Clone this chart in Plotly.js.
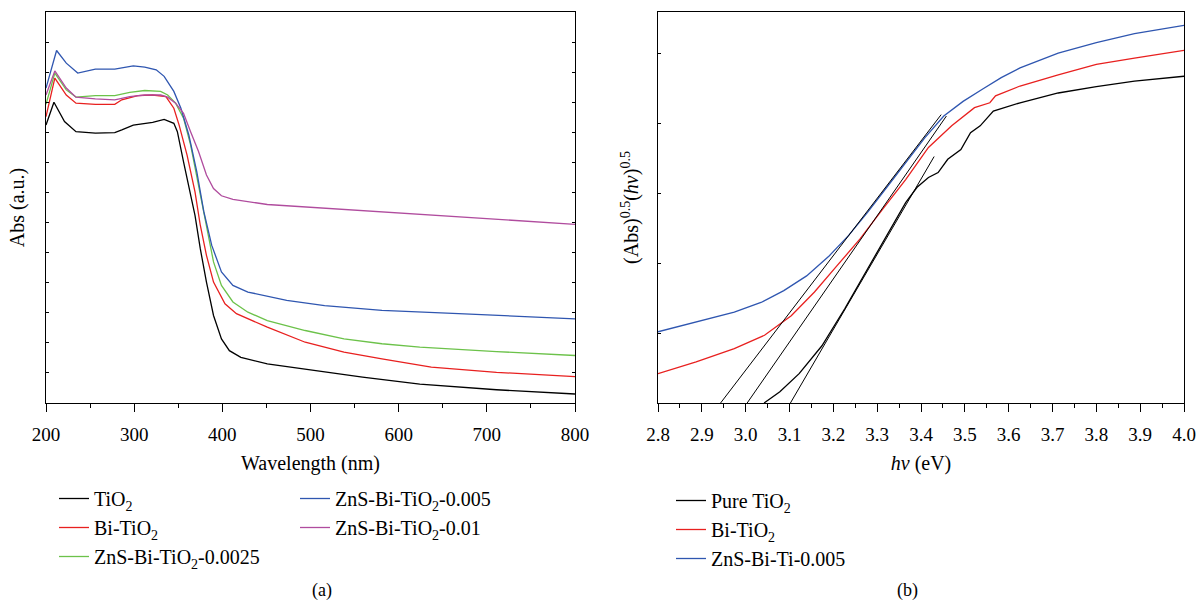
<!DOCTYPE html>
<html>
<head>
<meta charset="utf-8">
<script src="https://cdn.plot.ly/plotly-3.0.1.min.js"></script>
<style>html,body{margin:0;padding:0;background:#fff;}#chart{width:1198px;height:603px;}</style>
</head>
<body>
<div id="chart"></div>
<script>
// ---- Panel (a): absorbance vs wavelength ----
var tio2_wl  = [200,209,221,234,256,278,286,299,321,334,345,349,356,362,369,375,382,390,399,408,421,451,494,559,624,711,800];
var tio2_abs = [9.24,10.0,9.36,9.02,8.97,8.99,9.08,9.24,9.33,9.43,9.3,9.02,8.02,7.24,6.24,5.13,4.02,2.91,2.13,1.74,1.52,1.30,1.13,0.86,0.63,0.44,0.30];

var bi_wl  = [200,210,223,234,256,278,286,304,321,336,345,351,360,369,375,382,390,403,416,451,494,538,581,637,711,800];
var bi_abs = [9.52,10.8,10.24,9.97,9.93,9.93,10.08,10.22,10.24,10.19,9.8,9.24,8.24,7.02,5.91,4.91,4.02,3.3,2.97,2.52,2.02,1.69,1.47,1.19,1.02,0.88];

var z25_wl  = [200,210,223,234,256,278,295,312,330,338,347,356,364,373,382,390,399,412,429,451,494,538,581,624,711,800];
var z25_abs = [9.93,10.97,10.41,10.17,10.22,10.22,10.33,10.39,10.36,10.24,9.97,9.47,8.58,7.24,5.91,4.69,3.91,3.36,3.02,2.74,2.41,2.13,1.97,1.86,1.71,1.58];

var z5_wl  = [200,212,223,236,256,278,299,312,325,334,345,353,362,371,379,388,399,412,429,473,516,581,668,800];
var z5_abs = [10.47,11.72,11.3,10.97,11.1,11.1,11.21,11.17,11.08,10.86,10.36,9.8,8.91,7.69,6.36,5.24,4.36,3.91,3.69,3.41,3.24,3.08,2.97,2.8];

var z10_wl  = [200,210,223,234,256,278,295,312,330,338,347,356,364,373,382,390,399,412,451,538,624,711,800];
var z10_abs = [10.24,11.04,10.47,10.17,10.11,10.08,10.19,10.24,10.24,10.17,9.97,9.63,9.02,8.36,7.58,7.13,6.89,6.77,6.6,6.43,6.27,6.1,5.94];

// ---- Panel (b): (Abs)^0.5 (hv)^0.5 vs hv ----
var bz_hv = [2.8,2.887,2.974,3.035,3.087,3.139,3.191,3.235,3.278,3.322,3.365,3.409,3.452,3.496,3.539,3.583,3.626,3.713,3.8,3.887,4.0];
var bz_y  = [1.02,1.16,1.3,1.44,1.61,1.82,2.11,2.4,2.73,3.09,3.44,3.8,4.11,4.32,4.49,4.66,4.8,5.01,5.16,5.29,5.41];

var bb_hv = [2.8,2.887,2.974,3.043,3.104,3.157,3.209,3.261,3.313,3.365,3.417,3.47,3.522,3.557,3.57,3.626,3.713,3.8,3.887,4.0];
var bb_y  = [0.42,0.59,0.78,0.97,1.25,1.59,1.97,2.35,2.78,3.2,3.66,3.97,4.23,4.3,4.4,4.54,4.7,4.85,4.94,5.05];

var bt_hv = [3.042,3.078,3.122,3.174,3.226,3.278,3.33,3.365,3.391,3.417,3.439,3.461,3.491,3.513,3.535,3.565,3.626,3.713,3.8,3.887,4.0];
var bt_y  = [0.0,0.16,0.42,0.82,1.35,1.92,2.49,2.87,3.09,3.23,3.3,3.49,3.63,3.87,3.97,4.18,4.3,4.44,4.53,4.61,4.68];

// tangent (Tauc) fit lines: [x0, x1], [y0, y1]
var fit1_hv = [2.933,3.446], fit1_y = [-0.08,4.13];
var fit2_hv = [2.989,3.458], fit2_y = [-0.13,4.11];
var fit3_hv = [3.09,3.43],   fit3_y = [-0.13,3.53];

var names_a = ['TiO<sub>2</sub>','Bi-TiO<sub>2</sub>','ZnS-Bi-TiO<sub>2</sub>-0.0025','ZnS-Bi-TiO<sub>2</sub>-0.005','ZnS-Bi-TiO<sub>2</sub>-0.01'];
var names_b = ['Pure TiO<sub>2</sub>','Bi-TiO<sub>2</sub>','ZnS-Bi-Ti-0.005'];
var xticks_a = [200,300,400,500,600,700,800];
var xticks_b = [2.8,2.9,3.0,3.1,3.2,3.3,3.4,3.5,3.6,3.7,3.8,3.9,4.0];

var C = {black:'#000000', red:'#e8201f', green:'#6cc24a', blue:'#2f56b0', mag:'#b04c9e'};
var FONT = 'Liberation Serif, Times New Roman, serif';

function tr(x,y,name,color,xa,ya,leg,grp){
  return {x:x,y:y,name:name,type:'scatter',mode:'lines',line:{color:color,width:1.3},
          xaxis:xa,yaxis:ya,legend:leg,legendgroup:grp,showlegend:true};
}
function fit(x,y){
  return {x:x,y:y,type:'scatter',mode:'lines',line:{color:'#000',width:1},xaxis:'x2',yaxis:'y2',showlegend:false,hoverinfo:'skip'};
}

var data = [
  tr(tio2_wl,tio2_abs,names_a[0],C.black,'x','y','legend','a1'),
  tr(bi_wl,bi_abs,names_a[1],C.red,'x','y','legend','a2'),
  tr(z25_wl,z25_abs,names_a[2],C.green,'x','y','legend','a3'),
  tr(z5_wl,z5_abs,names_a[3],C.blue,'x','y','legend2','a4'),
  tr(z10_wl,z10_abs,names_a[4],C.mag,'x','y','legend2','a5'),
  tr(bt_hv,bt_y,names_b[0],C.black,'x2','y2','legend3','b1'),
  tr(bb_hv,bb_y,names_b[1],C.red,'x2','y2','legend3','b2'),
  tr(bz_hv,bz_y,names_b[2],C.blue,'x2','y2','legend3','b3'),
  fit(fit1_hv,fit1_y), fit(fit2_hv,fit2_y), fit(fit3_hv,fit3_y)
];

var yd = [1-403/603, 1-12/603];
var legBase = {font:{family:FONT,size:20,color:'#000'},bgcolor:'rgba(0,0,0,0)',traceorder:'grouped',
               tracegroupgap:0,xanchor:'left',yanchor:'top',itemwidth:30};
var TF = {family:FONT,size:19,color:'#000'};
var TT = {family:FONT,size:20,color:'#000'};

var layout = {
  width:1198, height:603,
  margin:{l:0,r:0,t:0,b:0},
  paper_bgcolor:'#fff', plot_bgcolor:'#fff',
  font:{family:FONT,size:19,color:'#000'},
  xaxis:{domain:[46/1198,575/1198],anchor:'y',range:[200,800],tickvals:xticks_a,
         ticks:'outside',ticklen:8,tickwidth:1,tickcolor:'#000',showline:true,linecolor:'#000',linewidth:1.2,
         mirror:true,showgrid:false,zeroline:false,ticklabelstandoff:6,
         minor:{dtick:50,ticks:'outside',ticklen:4,tickcolor:'#000'},
         tickfont:TF,
         title:{text:'Wavelength (nm)',font:TT,standoff:12}},
  yaxis:{domain:yd,anchor:'x',range:[0,13],dtick:1,showticklabels:false,
         ticks:'inside',ticklen:3,tickcolor:'#000',showline:true,linecolor:'#000',linewidth:1.2,
         mirror:'ticks',showgrid:false,zeroline:false,
         title:{text:'Abs (a.u.)',font:TT,standoff:14}},
  xaxis2:{domain:[658/1198,1184/1198],anchor:'y2',range:[2.8,4.0],tickvals:xticks_b,ticktext:xticks_b.map(function(v){return v.toFixed(1);}),
         ticks:'outside',ticklen:8,tickwidth:1,tickcolor:'#000',showline:true,linecolor:'#000',linewidth:1.2,
         mirror:true,showgrid:false,zeroline:false,ticklabelstandoff:6,
         minor:{dtick:0.05,ticks:'outside',ticklen:4,tickcolor:'#000'},
         tickfont:TF,
         title:{text:'<i>hν</i> (eV)',font:TT,standoff:12}},
  yaxis2:{domain:yd,anchor:'x2',range:[0,5.6],dtick:1,showticklabels:false,
         ticks:'inside',ticklen:3,tickcolor:'#000',showline:true,linecolor:'#000',linewidth:1.2,
         mirror:true,showgrid:false,zeroline:false,
         title:{text:'(Abs)<sup>0.5</sup>(<i>hν</i>)<sup>0.5</sup>',font:TT,standoff:12}},
  legend: Object.assign({},legBase,{x:54/1198,y:1-479/603}),
  legend2: Object.assign({},legBase,{x:295/1198,y:1-479/603}),
  legend3: Object.assign({},legBase,{x:671/1198,y:1-481/603}),
  annotations:[
    {text:'(a)',xref:'paper',yref:'paper',x:310/1198,y:1-590/603,yanchor:'middle',showarrow:false,font:{family:FONT,size:18}},
    {text:'(b)',xref:'paper',yref:'paper',x:920/1198,y:1-590/603,yanchor:'middle',showarrow:false,font:{family:FONT,size:18}}
  ]
};

Plotly.newPlot('chart',data,layout,{displayModeBar:false,staticPlot:true});
</script>
</body>
</html>
